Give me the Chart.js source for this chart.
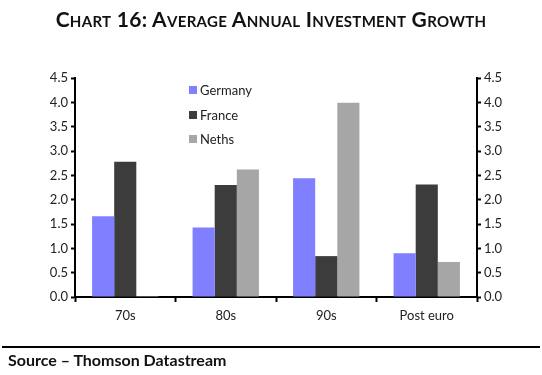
<!DOCTYPE html>
<html>
<head>
<meta charset="utf-8">
<script src="https://cdn.jsdelivr.net/npm/chart.js@4.4.0/dist/chart.umd.min.js"></script>
<style>
    html, body { margin: 0; padding: 0; background: #fff; }
    #wrap { position: relative; width: 542px; height: 375px; overflow: hidden; }
    #chartBox { position: absolute; left: 0; top: 0; width: 542px; height: 375px; }
    #title {
        position: absolute; left: 0; top: 6px; width: 542px; text-align: center;
        font-family: "Lato", "Open Sans", sans-serif; font-weight: bold;
        font-size: 21px; font-variant: small-caps; color: #111; letter-spacing: 0.3px;
    }
    #legend { position: absolute; left: 189px; top: 78px; font-family: "Lato", sans-serif; font-size: 13px; color: #222; }
    .item { height: 24.5px; display: flex; align-items: center; }
    .swatch { width: 8px; height: 8px; margin-right: 3px; }
    #rule { position: absolute; left: 2px; width: 538px; top: 346px; height: 2px; background: #000; }
    #source {
        position: absolute; left: 8px; top: 350px;
        font-family: "Lato", "Open Sans", sans-serif; font-weight: bold; font-size: 16px; color: #111;
    }
</style>
</head>
<body>
<div id="wrap">
    <div id="chartBox"><canvas id="investmentChart"></canvas></div>
    <div id="title">Chart 16: Average Annual Investment Growth</div>
    <div id="legend"></div>
    <div id="rule"></div>
    <div id="source">Source – Thomson Datastream</div>
</div>
<script>
const categories = ["70s", "80s", "90s", "Post euro"];
const germany = [1.66, 1.43, 2.44, 0.90];
const france = [2.78, 2.30, 0.84, 2.31];
const neths = [0.02, 2.62, 3.99, 0.72];
const seriesNames = ["Germany", "France", "Neths"];
const seriesColors = ["#7f7fff", "#3c3c3c", "#a6a6a6"];

const axisFont = { family: "Lato, 'Open Sans', sans-serif", size: 13 };

function yAxis(position, width) {
    return {
        position,
        min: 0,
        max: 4.5,
        ticks: {
            stepSize: 0.5,
            color: "#222",
            font: axisFont,
            padding: 3,
            callback: (value) => Number(value).toFixed(1),
        },
        grid: { drawOnChartArea: false, tickLength: 4, tickColor: "#000", tickWidth: 2 },
        border: { color: "#000", width: 2 },
        afterFit: (scale) => { scale.width = width; },
    };
}

function renderChart() {
    const data = [germany, france, neths];
    new Chart(document.getElementById("investmentChart"), {
        type: "bar",
        data: {
            labels: categories,
            datasets: seriesNames.map((name, i) => ({
                label: name,
                data: data[i],
                backgroundColor: seriesColors[i],
                yAxisID: "y",
            })),
        },
        options: {
            responsive: true,
            maintainAspectRatio: false,
            animation: false,
            datasets: { bar: { categoryPercentage: 0.66, barPercentage: 1 } },
            layout: { padding: { top: 78, left: 0, right: 0, bottom: 0 } },
            plugins: { legend: { display: false }, tooltip: { enabled: false } },
            scales: {
                x: {
                    ticks: { color: "#222", font: axisFont, padding: 6 },
                    grid: { drawOnChartArea: false, tickLength: 5, tickColor: "#000", tickWidth: 2 },
                    border: { color: "#000", width: 2 },
                    afterFit: (scale) => { scale.height = 78; },
                },
                y: yAxis("left", 75),
                y2: yAxis("right", 65),
            },
        },
    });

    const legend = document.getElementById("legend");
    seriesNames.forEach((name, i) => {
        const row = document.createElement("div");
        row.className = "item";
        row.innerHTML = `<span class="swatch" style="background:${seriesColors[i]}"></span>${name}`;
        legend.appendChild(row);
    });
}

renderChart();
</script>
</body>
</html>
